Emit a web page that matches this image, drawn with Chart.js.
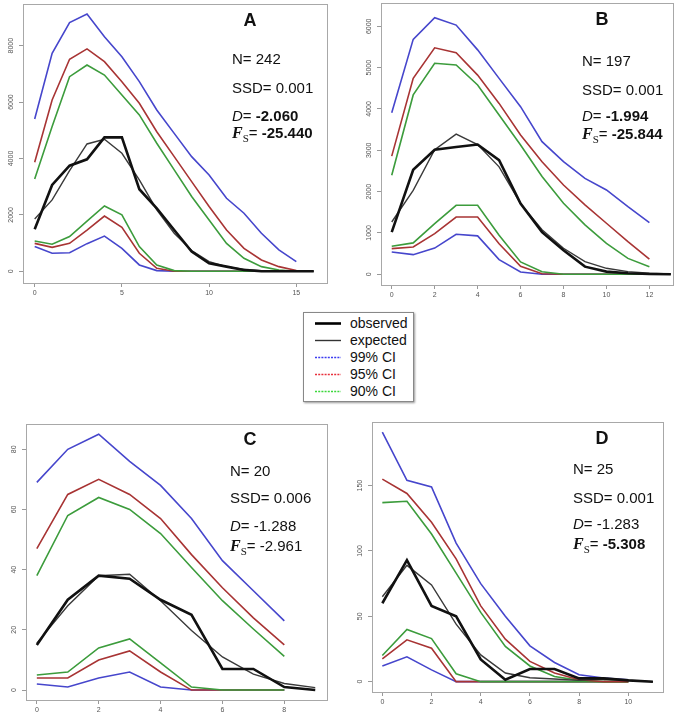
<!DOCTYPE html>
<html>
<head>
<meta charset="utf-8">
<script src="https://cdn.jsdelivr.net/npm/chart.js@4.4.0/dist/chart.umd.min.js"></script>
<style>
  body { margin:0; width:686px; height:724px; position:relative; overflow:hidden; background:#fff;
         font-family:"Liberation Sans", Arial, sans-serif; color:#111; }
  canvas { position:absolute; }
  .letter { position:absolute; font-size:18px; line-height:18px; font-weight:bold; width:30px; text-align:center; }
  .st { position:absolute; font-size:15px; line-height:15px; white-space:nowrap; }
  .st i { font-style:italic; }
  .fs { font-family:"Liberation Serif", serif; font-style:italic; font-weight:bold; font-size:16px; }
  .sub { font-family:"Liberation Serif", serif; font-size:11px; position:relative; top:4px; }
  #legend { position:absolute; left:303px; top:312px; width:109px; height:88px; border:1px solid #888;
            box-shadow:1px 1px 2px #999; background:#fff; }
  .row { position:absolute; left:0; height:17px; font-size:14px; line-height:17px; white-space:nowrap; }
  .row svg { position:absolute; left:11px; top:0; }
  .row span { position:absolute; left:46px; }
</style>
</head>
<body>
<canvas id="cA"></canvas>
<canvas id="cB"></canvas>
<canvas id="cC"></canvas>
<canvas id="cD"></canvas>
<div id="legend"></div>
<script>
// ---- panel A ----
const xA = [0,1,2,3,4,5,6,7,8,9,10,11,12,13,14,15,16];
const obsA = [1490,3060,3745,3970,4750,4750,2910,2235,1465,700,285,165,47,0,0,0,0];
const expA = [1855,2530,3570,4515,4680,4185,3240,2175,1350,735,345,165,70,25,5,0,0];
const up99A = [5400,7730,8820,9125,8320,7610,6725,5720,4890,4065,3415,2590,2060,1350,760,340];
const up95A = [3865,6075,7520,7885,7435,6725,5960,4950,4065,3180,2295,1465,815,400,165,25];
const up90A = [3275,5130,6900,7315,6960,6250,5545,4540,3595,2650,1820,990,460,165,47,0];
const lo90A = [1075,960,1230,1780,2315,2000,875,225,25,0,0,0,0,0,0,0];
const lo95A = [990,850,990,1460,1960,1560,640,105,0,0,0,0,0,0,0,0];
const lo99A = [875,640,660,980,1250,815,225,25,0,0,0,0,0,0,0,0];
const xTicksA = [0,5,10,15];
const yTicksA = [0,2000,4000,6000,8000];

// ---- panel B ----
const xB = [0,1,2,3,4,5,6,7,8,9,10,11,12,13];
const obsB = [1020,2530,3015,3080,3140,2760,1710,1020,580,185,65,25,8,0];
const expB = [1265,2030,3015,3390,3140,2600,1710,1080,630,305,145,65,25,8];
const up99B = [3910,5685,6210,6030,5430,4740,4055,3210,2725,2320,2040,1635,1250];
const up95B = [2860,4740,5480,5360,4820,4135,3370,2725,2160,1680,1235,790,365];
const up90B = [2395,4340,5105,5065,4580,3855,3130,2365,1720,1195,750,385,185];
const lo90B = [680,760,1225,1670,1670,945,300,60,0,0,0,0,0];
const lo95B = [620,660,985,1385,1385,740,195,15,0,0,0,0,0];
const lo99B = [540,475,635,970,930,355,55,0,0,0,0,0,0];
const xTicksB = [0,2,4,6,8,10,12];
const yTicksB = [0,1000,2000,3000,4000,5000,6000];

// ---- panel C ----
const xC = [0,1,2,3,4,5,6,7,8,9];
const obsC = [15,30,38,37,30,25,7,7,1,0];
const expC = [15.6,28,38,38.5,29.7,19.8,11,5.3,2.2,0.8];
const up99C = [69,80,85,76,68,57,43,33,23];
const up95C = [47,65,70,65,57,45,34,24,15];
const up90C = [38,58,64,60,52,40.7,29.7,20.3,11.2];
const lo90C = [5,6,14,17,9,1,0,0,0];
const lo95C = [4,4,10,13,6,0,0,0,0];
const lo99C = [2,1,4,6,1,0,0,0,0];
const xTicksC = [0,2,4,6,8];
const yTicksC = [0,20,40,60,80];

// ---- panel D ----
const xD = [0,1,2,3,4,5,6,7,8,9,10,11];
const obsD = [60,93,58,50,17,1.5,9.7,9.7,2.5,2.5,1,0];
const expD = [65,89,74,44,20.5,6.6,3,2,1,2,1,0];
const up99D = [191,154,149,106,75,50,27.4,14.7,5.3,2.8,1.5];
const up95D = [155,144,122,94,58,32.5,15.5,6.6,1.5,0,0];
const up90D = [137,138,113,83,53,27,12,4,1,0,0];
const lo90D = [20,40,33,6,0,0,0,0,0,0,0];
const lo95D = [17.5,32,25.6,0,0,0,0,0,0,0,0];
const lo99D = [12,19,9,0,0,0,0,0,0,0,0];
const xTicksD = [0,2,4,6,8,10];
const yTicksD = [0,50,100,150];

const seriesColors = { obs:'#111111', exp:'#3a3a3a', c99:'#4646cc', c95:'#a83434', c90:'#3c9c3c' };

// frame around the plot area, R style
const boxPlugin = {
  id:'box',
  afterDraw(chart){
    const a = chart.chartArea, ctx = chart.ctx;
    ctx.save();
    ctx.strokeStyle = '#a8a8a8';
    ctx.lineWidth = 1;
    ctx.strokeRect(Math.round(a.left)+0.5, Math.round(a.top)+0.5, Math.round(a.right-a.left), Math.round(a.bottom-a.top));
    ctx.restore();
  }
};

function pts(xs, ys){ return ys.map((v,i)=>({x:xs[i], y:v})); }

function makePanel(id, box, xs, s, xr, yr, xt, yt){
  const cv = document.getElementById(id);
  const W = box.r - box.l + 31, H = box.b - box.t + 26;
  cv.width = W; cv.height = H;
  cv.style.left = (box.l - 25) + 'px';
  cv.style.top = (box.t - 6) + 'px';
  const line = (data, col, w) => ({ data:data, borderColor:col, borderWidth:w, pointRadius:0, tension:0, fill:false });
  const maxLen = Math.max(...yt.map(v=>String(v).length));
  new Chart(cv, {
    type:'line',
    data:{ datasets:[
      line(pts(xs, s.obs), seriesColors.obs, 2.6),
      line(pts(xs, s.exp), seriesColors.exp, 1.4),
      line(pts(xs, s.up99), seriesColors.c99, 1.6),
      line(pts(xs, s.up95), seriesColors.c95, 1.6),
      line(pts(xs, s.up90), seriesColors.c90, 1.6),
      line(pts(xs, s.lo90), seriesColors.c90, 1.6),
      line(pts(xs, s.lo95), seriesColors.c95, 1.6),
      line(pts(xs, s.lo99), seriesColors.c99, 1.6)
    ]},
    options:{
      responsive:false, animation:false,
      layout:{ padding:{ left:0, top:6, right:6, bottom:0 } },
      plugins:{ legend:{display:false}, tooltip:{enabled:false} },
      scales:{
        x:{ type:'linear', min:xr[0], max:xr[1],
            afterBuildTicks: sc => { sc.ticks = xt.map(v=>({value:v})); },
            afterFit: sc => { sc.height = 20; },
            border:{display:false},
            grid:{ drawOnChartArea:false, drawTicks:true, tickLength:4, color:'#999' },
            ticks:{ font:{size:7, family:'Liberation Sans'}, color:'#555', padding:2, maxRotation:0, autoSkip:false,
                    callback: v => String(v) } },
        y:{ type:'linear', min:yr[0], max:yr[1],
            afterBuildTicks: sc => { sc.ticks = yt.map(v=>({value:v})); },
            afterFit: sc => { sc.width = 25; },
            border:{display:false},
            grid:{ drawOnChartArea:false, drawTicks:true, tickLength:4, color:'#999' },
            ticks:{ font:{size:7, family:'Liberation Sans'}, color:'#555', minRotation:90, maxRotation:90,
                    crossAlign:'center', padding: 8 - maxLen*3.9/2, autoSkip:false,
                    callback: v => String(v) } }
      }
    },
    plugins:[boxPlugin]
  });
}

makePanel('cA', {l:23, r:327, t:4, b:283}, xA,
  {obs:obsA, exp:expA, up99:up99A, up95:up95A, up90:up90A, lo90:lo90A, lo95:lo95A, lo99:lo99A},
  [-0.67, 16.76], [-415, 9478], xTicksA, yTicksA);
makePanel('cB', {l:381, r:673, t:3, b:285}, xB,
  {obs:obsB, exp:expB, up99:up99B, up95:up95B, up90:up90B, lo90:lo90B, lo95:lo95B, lo99:lo99B},
  [-0.5, 13.1], [-259, 6564], xTicksB, yTicksB);
makePanel('cC', {l:26, r:327, t:422, b:700}, xC,
  {obs:obsC, exp:expC, up99:up99C, up95:up95C, up90:up90C, lo90:lo90C, lo95:lo95C, lo99:lo99C},
  [-0.35, 9.38], [-3.3, 88.3], xTicksC, yTicksC);
makePanel('cD', {l:372, r:663, t:422, b:692}, xD,
  {obs:obsD, exp:expD, up99:up99D, up95:up95D, up90:up90D, lo90:lo90D, lo95:lo95D, lo99:lo99D},
  [-0.42, 11.41], [-7.9, 198.4], xTicksD, yTicksD);

// ---- annotations ----
const letters = [['A',250,19.5],['B',602,19],['C',250,439],['D',602,438]];
letters.forEach(([t,cx,cy])=>{
  const d = document.createElement('div');
  d.className = 'letter'; d.textContent = t;
  d.style.left = (cx-15)+'px'; d.style.top = (cy-9)+'px';
  document.body.appendChild(d);
});

const stats = [
  // x, [yN, ySSD, yD, yFs], N, SSD, D, Fs, D bold, Fs bold
  [232, [58,87,115,132.5], '242', '0.001', '-2.060', '-25.440', true, true],
  [582, [60,89,115.5,133], '197', '0.001', '-1.994', '-25.844', true, true],
  [230, [470,497.5,525,545], '20', '0.006', '-1.288', '-2.961', false, false],
  [573, [468,497,523,543], '25', '0.001', '-1.283', '-5.308', false, true]
];
stats.forEach(([x, ys, n, ssd, dv, fv, bd, bf])=>{
  const html = [
    'N= ' + n,
    'SSD= ' + ssd,
    '<i>D</i>= ' + (bd ? '<b>'+dv+'</b>' : dv),
    '<span class="fs">F</span><span class="sub">S</span>= ' + (bf ? '<b>'+fv+'</b>' : fv)
  ];
  html.forEach((h,i)=>{
    const d = document.createElement('div');
    d.className = 'st'; d.innerHTML = h;
    d.style.left = x+'px'; d.style.top = (ys[i]-7.5)+'px';
    document.body.appendChild(d);
  });
});

// ---- shared legend ----
const legendItems = [
  ['observed', '#000', 2.6, ''],
  ['expected', '#333', 1.4, ''],
  ['99% CI', '#3c3cf0', 1.5, '2,1.2'],
  ['95% CI', '#e8303c', 1.5, '2,1.2'],
  ['90% CI', '#3cd83c', 1.5, '2,1.2']
];
const lg = document.getElementById('legend');
legendItems.forEach(([label, col, w, dash], i)=>{
  const r = document.createElement('div');
  r.className = 'row';
  r.style.top = (1.5 + i*17) + 'px';
  r.innerHTML = '<svg width="26" height="17"><line x1="0" y1="8.5" x2="26" y2="8.5" stroke="'+col+'" stroke-width="'+w+'"'+
    (dash ? ' stroke-dasharray="'+dash+'"' : '') + '/></svg><span>'+label+'</span>';
  lg.appendChild(r);
});
</script>
</body>
</html>
